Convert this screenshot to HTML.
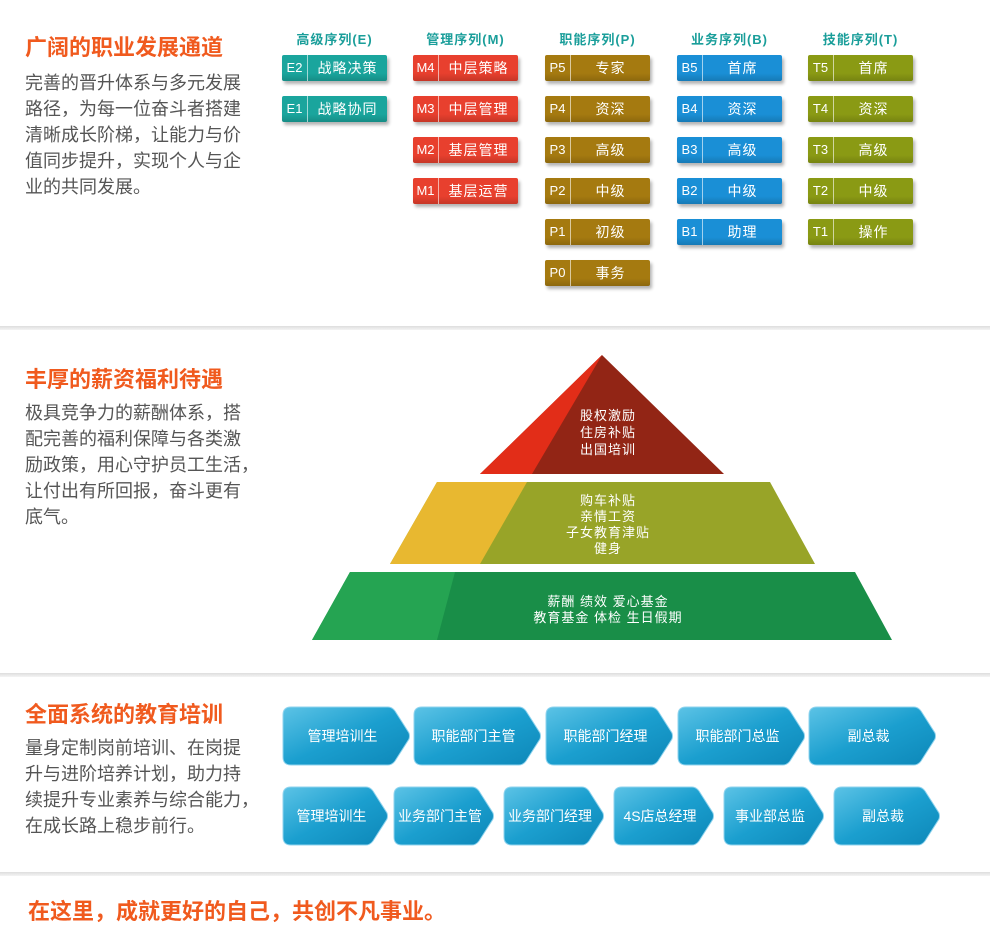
<!DOCTYPE html>
<html><head><meta charset="utf-8"><style>
body{margin:0;width:990px;height:933px;background:#fff;font-family:"Liberation Sans","Noto Sans CJK SC",sans-serif;position:relative;overflow:hidden}
.h{position:absolute;left:25px;color:#f05a1e;font-weight:bold;font-size:22px}
.p{position:absolute;left:25px;width:260px;color:#555;font-size:18px;line-height:26px;white-space:nowrap}
.ct{position:absolute;top:29px;font-size:13px;font-weight:bold;letter-spacing:1px;width:105px;text-align:center}
.b{position:absolute;width:105px;height:26px;color:#fff;font-size:14px;line-height:26px;box-shadow:2px 3px 3px rgba(0,0,0,.3);border-radius:2px}
.b i{font-style:normal;position:absolute;left:0;width:25px;text-align:center;border-right:1px solid rgba(255,255,255,.6);height:26px;font-size:13px}
.b span{position:absolute;left:26px;right:0;text-align:center;letter-spacing:1px}
.sep{position:absolute;left:0;width:990px;height:4px;background:linear-gradient(#ddd,#f4f4f4)}
</style></head><body>
<div class="h" style="top:30px">广阔的职业发展通道</div>
<div class="p" style="top:70px">完善的晋升体系与多元发展<br>路径，为每一位奋斗者搭建<br>清晰成长阶梯，让能力与价<br>值同步提升，实现个人与企<br>业的共同发展。</div>
<div class="ct" style="left:282px;color:#1a9e9a">高级序列(E)</div>
<div class="ct" style="left:413px;color:#1a9e9a">管理序列(M)</div>
<div class="ct" style="left:545px;color:#1a9e9a">职能序列(P)</div>
<div class="ct" style="left:677px;color:#1a9e9a">业务序列(B)</div>
<div class="ct" style="left:808px;color:#1a9e9a">技能序列(T)</div>
<div id="cols"></div>
<div class="sep" style="top:326px"></div>
<div class="h" style="top:362px">丰厚的薪资福利待遇</div>
<div class="p" style="top:400px">极具竞争力的薪酬体系，搭<br>配完善的福利保障与各类激<br>励政策，用心守护员工生活，<br>让付出有所回报，奋斗更有<br>底气。</div>
<svg style="position:absolute;left:0;top:0" width="990" height="933">
<polygon points="602,355 480,474 724,474" fill="#922515"/>
<polygon points="602,355 480,474 532,474" fill="#e22d18"/>
<polygon points="437,482 770,482 815,564 390,564" fill="#98a428"/>
<polygon points="437,482 527,482 480,564 390,564" fill="#e8b830"/>
<polygon points="350,572 855,572 892,640 312,640" fill="#198e48"/>
<polygon points="350,572 455,572 437,640 312,640" fill="#25a452"/>
<g fill="#fff" font-size="13" text-anchor="middle" font-family="Liberation Sans,Noto Sans CJK SC,sans-serif" letter-spacing="1">
<text x="608" y="420">股权激励</text><text x="608" y="437">住房补贴</text><text x="608" y="454">出国培训</text>
<text x="608" y="505">购车补贴</text><text x="608" y="521">亲情工资</text><text x="608" y="537">子女教育津贴</text><text x="608" y="553">健身</text>
<text x="608" y="606">薪酬 绩效 爱心基金</text><text x="608" y="622">教育基金 体检 生日假期</text>
</g>
<defs><linearGradient id="g" x1="0" y1="0" x2="1" y2="1"><stop offset="0" stop-color="#5cc3e6"/><stop offset=".5" stop-color="#1b9fcf"/><stop offset="1" stop-color="#0d87b8"/></linearGradient></defs>
<g id="arr" font-size="14" fill="#fff" text-anchor="middle" font-family="Liberation Sans,Noto Sans CJK SC,sans-serif"></g>
</svg>
<div class="sep" style="top:673px"></div>
<div class="h" style="top:697px">全面系统的教育培训</div>
<div class="p" style="top:735px">量身定制岗前培训、在岗提<br>升与进阶培养计划，助力持<br>续提升专业素养与综合能力，<br>在成长路上稳步前行。</div>
<div class="sep" style="top:872px"></div>
<div class="h" style="top:894px;left:28px">在这里，成就更好的自己，共创不凡事业。</div>
<script>
var cols=[[282,'#1aa59d',[['E2','战略决策'],['E1','战略协同']]],
[413,'#e8402e',[['M4','中层策略'],['M3','中层管理'],['M2','基层管理'],['M1','基层运营']]],
[545,'#a57a10',[['P5','专家'],['P4','资深'],['P3','高级'],['P2','中级'],['P1','初级'],['P0','事务']]],
[677,'#1a8fd6',[['B5','首席'],['B4','资深'],['B3','高级'],['B2','中级'],['B1','助理']]],
[808,'#8a9a14',[['T5','首席'],['T4','资深'],['T3','高级'],['T2','中级'],['T1','操作']]]];
var h='';cols.forEach(function(c){c[2].forEach(function(r,i){h+='<div class="b" style="left:'+c[0]+'px;top:'+(55+i*41)+'px;background:linear-gradient('+c[1]+','+c[1]+' 70%,rgba(0,0,0,.15)),'+c[1]+'"><i>'+r[0]+'</i><span>'+r[1]+'</span></div>'})});
document.getElementById('cols').innerHTML=h;
var rows=[[707,[[283,410,'管理培训生'],[414,541,'职能部门主管'],[546,673,'职能部门经理'],[678,805,'职能部门总监'],[809,936,'副总裁']]],
[787,[[283,388,'管理培训生'],[394,494,'业务部门主管'],[504,604,'业务部门经理'],[614,714,'4S店总经理'],[724,824,'事业部总监'],[834,940,'副总裁']]]];
var s='';rows.forEach(function(r){var y=r[0],H=58;r[1].forEach(function(a){var x1=a[0],x2=a[1],t=x2-22;
s+='<path d="M'+(x1+8)+','+y+' L'+t+','+y+' Q'+(t+4)+','+y+' '+(t+7)+','+(y+4)+' L'+(x2-1)+','+(y+H/2-3)+' Q'+x2+','+(y+H/2)+' '+(x2-1)+','+(y+H/2+3)+' L'+(t+7)+','+(y+H-4)+' Q'+(t+4)+','+(y+H)+' '+t+','+(y+H)+' L'+(x1+8)+','+(y+H)+' Q'+x1+','+(y+H)+' '+x1+','+(y+H-8)+' L'+x1+','+(y+8)+' Q'+x1+','+y+' '+(x1+8)+','+y+' Z" fill="url(#g)" stroke="#8fd3ee" stroke-width="1"/>';
s+='<text x="'+((x1+x2-8)/2)+'" y="'+(y+H/2+5)+'">'+a[2]+'</text>'})});
document.getElementById('arr').innerHTML=s;
</script>
</body></html>
